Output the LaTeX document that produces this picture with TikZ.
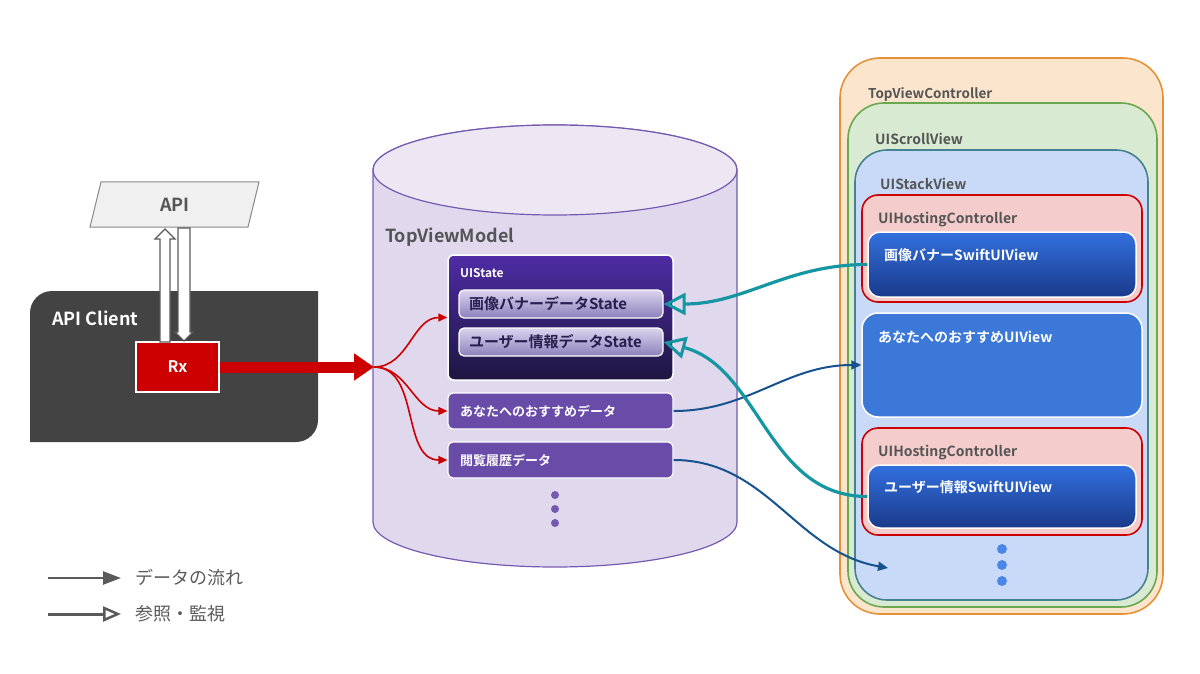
\documentclass[tikz,border=0pt]{standalone}
\usepackage{fontspec}
\setmainfont{Noto Sans CJK JP}[BoldFont={Noto Sans CJK JP Bold}]
\usepackage{tikz}
\usetikzlibrary{arrows.meta, positioning, calc}
\usepackage{xcolor}
\definecolor{clientgray}{RGB}{67,67,67}
\definecolor{rxred}{RGB}{204,0,0}
\definecolor{labelgray}{RGB}{85,85,85}
\definecolor{apifill}{RGB}{240,240,240}
\definecolor{cylfill}{RGB}{224,216,236}
\definecolor{cyltop}{RGB}{236,231,243}
\definecolor{cylline}{RGB}{118,90,178}
\definecolor{statetop}{RGB}{78,44,164}
\definecolor{statebot}{RGB}{30,22,64}
\definecolor{itemtop}{RGB}{218,212,238}
\definecolor{itembot}{RGB}{140,128,186}
\definecolor{itemtext}{RGB}{40,30,80}
\definecolor{datafill}{RGB}{104,76,168}
\definecolor{vcfill}{RGB}{252,229,205}
\definecolor{vcline}{RGB}{230,145,56}
\definecolor{scrollfill}{RGB}{217,234,211}
\definecolor{scrollline}{RGB}{106,168,79}
\definecolor{stackfill}{RGB}{201,218,248}
\definecolor{stackline}{RGB}{69,129,142}
\definecolor{hostfill}{RGB}{244,204,204}
\definecolor{swifttop}{RGB}{50,112,222}
\definecolor{swiftbot}{RGB}{26,58,138}
\definecolor{uiviewfill}{RGB}{60,120,216}
\definecolor{refteal}{RGB}{22,150,162}
\definecolor{flowblue}{RGB}{22,82,142}
\definecolor{dotblue}{RGB}{74,134,232}
\definecolor{legendgray}{RGB}{90,90,90}

\begin{document}
\begin{tikzpicture}[
    x=1pt, y=-1pt,
    lbl/.style={anchor=west, inner sep=0pt, text=labelgray, font=\fontsize{14}{16}\selectfont\bfseries},
    wlbl/.style={lbl, text=white},
    area/.style={draw, line width=1.6pt},
    hollow/.style={draw=legendgray, fill=white, line width=1.2pt, line join=miter},
    stateitem/.style={draw=white, line width=1.2pt, rounded corners=5pt, top color=itemtop, bottom color=itembot,
                      minimum width=204pt, minimum height=28pt, inner xsep=10pt, text width=184pt, align=left,
                      text=itemtext, font=\fontsize{15}{17}\selectfont\bfseries},
    databox/.style={draw=white, line width=1.2pt, rounded corners=5pt, fill=datafill,
                    minimum width=225pt, minimum height=36pt, inner xsep=12pt, text width=201pt, align=left,
                    text=white, font=\fontsize{13}{15}\selectfont\bfseries},
    swiftbox/.style={draw=white, line width=1.5pt, rounded corners=12pt, top color=swifttop, bottom color=swiftbot,
                     minimum width=268pt},
    hostbox/.style={area, draw=rxred, fill=hostfill, rounded corners=16pt, minimum width=280pt, minimum height=107pt},
    flow/.style={-{Triangle[length=9pt, width=8pt]}, line width=1.6pt, rxred},
    bind/.style={-{Triangle[length=10pt, width=9pt]}, line width=2pt, flowblue},
    watch/.style={-{Triangle[open, length=22pt, width=22pt, line width=3pt]}, line width=3.2pt, refteal},
    legtext/.style={anchor=west, inner sep=0pt, text=legendgray, font=\fontsize{18}{20}\selectfont},
]
    \useasboundingbox (0,0) rectangle (1200,674);

    % API and client
    \fill[apifill, draw=labelgray!70, line width=1pt] (101,182) -- (259,182) -- (248,227) -- (90,227) -- cycle;
    \node[lbl, anchor=center, font=\fontsize{18}{20}\selectfont\bfseries] (api) at (175,205) {API};
    \fill[clientgray] (30,442) -- (30,313) arc[start angle=180, end angle=90, radius=22pt]
        -- (318,291) -- (318,420) arc[start angle=0, end angle=-90, radius=22pt] -- cycle;
    \node[wlbl, font=\fontsize{18}{20}\selectfont\bfseries] (client) at (52,318) {API Client};
    \node[fill=rxred, draw=white, line width=1.2pt, minimum width=83pt, minimum height=50pt,
          text=white, font=\fontsize{16}{18}\selectfont\bfseries] (rx) at (177.5,367) {Rx};
    % request / response
    \coordinate (reqtip) at (165,229);
    \coordinate (resptip) at (184,341);
    \draw[hollow] (reqtip) -- ++(10,10) -- ++(-5,0) -- ++(0,103) -- ++(-10,0) -- ++(0,-103) -- ++(-5,0) -- cycle;
    \draw[hollow] (resptip) -- ++(9,-9) -- ++(-3,0) -- ++(0,-104) -- ++(-12,0) -- ++(0,104) -- ++(-3,0) -- cycle;

    % view model
    \fill[cylfill, draw=cylline, line width=1.2pt] (373,170) -- (373,522)
        arc[start angle=180, end angle=360, x radius=182pt, y radius=45pt] -- (737,170)
        arc[start angle=0, end angle=180, x radius=182pt, y radius=45pt] -- cycle;
    \draw[fill=cyltop, draw=cylline, line width=1.2pt] (555,170) ellipse[x radius=182pt, y radius=45pt];
    \node[lbl, font=\fontsize{18}{20}\selectfont\bfseries] (vm) at (385,237) {TopViewModel};

    \node[draw=white, line width=1.5pt, rounded corners=6pt, top color=statetop, bottom color=statebot,
          minimum width=225pt, minimum height=125pt] (state) at (560.5,317.5) {};
    \node[wlbl, font=\fontsize{12}{14}\selectfont\bfseries] (statelbl) at (460,273) {UIState};
    \node[stateitem] (bannerst) at (561,304) {画像バナーデータState};
    \node[stateitem] (userst) at (561,342) {ユーザー情報データState};
    \node[databox] (recodata) at (560.5,411) {あなたへのおすすめデータ};
    \node[databox] (histdata) at (560.5,460) {閲覧履歴データ};
    \foreach \y in {495,509,523}
        \fill[cylline] (555,\y) circle[radius=4pt];

    % view controller
    \node[area, draw=vcline, fill=vcfill, rounded corners=40pt, minimum width=323pt, minimum height=556pt] (vc) at (1001.5,336) {};
    \node[lbl, font=\fontsize{13.5}{15}\selectfont\bfseries] (vclbl) at (868,94) {TopViewController};
    \node[area, draw=scrollline, fill=scrollfill, rounded corners=36pt, minimum width=309pt, minimum height=504pt] (scroll) at (1002.5,355) {};
    \node[lbl] (scrolllbl) at (875,139) {UIScrollView};
    \node[area, draw=stackline, fill=stackfill, rounded corners=32pt, minimum width=293pt, minimum height=450pt] (stack) at (1001.5,375) {};
    \node[lbl] (stacklbl) at (880,184) {UIStackView};

    \node[hostbox] (host1) at (1002,248.5) {};
    \node[lbl] (host1lbl) at (878,220) {UIHostingController};
    \node[swiftbox, minimum height=65pt] (bannerview) at (1002,264.5) {};
    \node[wlbl] (bannerlbl) at (884,255) {画像バナーSwiftUIView};

    \node[draw=white, line width=1.5pt, fill=uiviewfill, rounded corners=16pt, minimum width=280pt, minimum height=104pt] (recoview) at (1002,365) {};
    \node[wlbl] (recolbl) at (878,337) {あなたへのおすすめUIView};

    \node[hostbox] (host2) at (1002,481.5) {};
    \node[lbl] (host2lbl) at (878,453) {UIHostingController};
    \node[swiftbox, minimum height=63pt] (userview) at (1002,496.5) {};
    \node[wlbl] (userlbl) at (884,487) {ユーザー情報SwiftUIView};
    \foreach \y in {549,565,581}
        \fill[dotblue] (1002,\y) circle[radius=5pt];
    \coordinate (listend) at (888,568);

    % data flow
    \coordinate (split) at (374,367);
    \draw[-{Triangle[length=20pt, width=26pt]}, line width=11pt, rxred] (rx.east) -- (split);
    \draw[flow] (split) to[out=0, in=180] (state.west);
    \draw[flow] (split) to[out=0, in=180] (recodata.west);
    \draw[flow] (split) to[out=0, in=180] (histdata.west);
    \draw[bind] (recodata.east) to[out=0, in=180] (recoview.west);
    \draw[bind] (histdata.east) to[out=0, in=170] (listend);

    % observation
    \draw[watch] (bannerview.west) to[out=180, in=0] (bannerst.east);
    \draw[watch] (userview.west) to[out=180, in=-15] (userst.east);

    % legend
    \coordinate (flowa) at (48,578);
    \coordinate (flowb) at (121,578);
    \coordinate (watcha) at (48,614);
    \coordinate (watchb) at (121,614);
    \draw[-{Triangle[length=18pt, width=13pt]}, line width=2.5pt, legendgray] (flowa) -- (flowb);
    \draw[-{Triangle[open, length=18pt, width=15pt, line width=2.5pt]}, line width=3pt, legendgray] (watcha) -- (watchb);
    \node[legtext] (flowtxt) at (135,578) {データの流れ};
    \node[legtext] (watchtxt) at (135,614) {参照・監視};
\end{tikzpicture}
\end{document}
